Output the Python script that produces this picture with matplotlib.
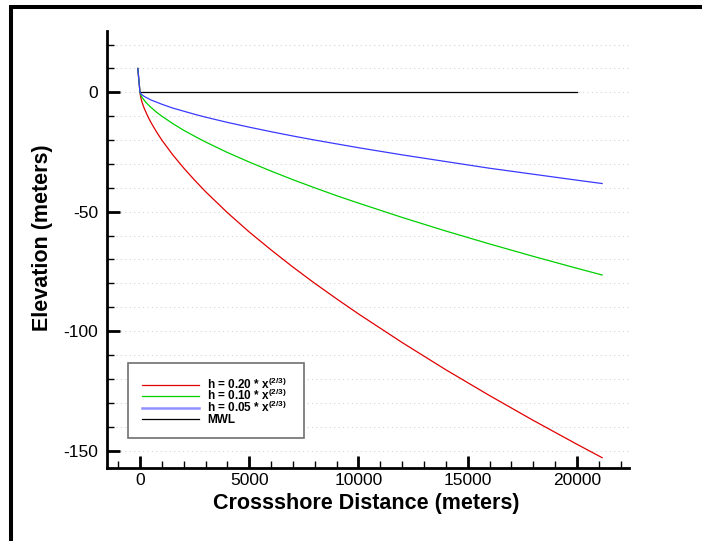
import matplotlib
matplotlib.use("Agg")
import matplotlib.pyplot as plt
from matplotlib.lines import Line2D
from matplotlib.patches import Rectangle
from matplotlib.ticker import MultipleLocator

plt.rcParams["font.family"] = ["Liberation Sans", "DejaVu Sans"]
plt.rcParams["axes.unicode_minus"] = False
plt.rcParams["mathtext.fontset"] = "custom"
plt.rcParams["mathtext.rm"] = "Liberation Sans:bold"
plt.rcParams["mathtext.default"] = "rm"

# profile points (crossshore distance, m)
dist = [-100, 0, 25, 50, 100, 175, 250, 375, 500, 750, 1000, 1500, 2000,
        2500, 3000, 4000, 5000, 6000, 7000, 8000, 9000, 10000, 12000,
        14000, 16000, 18000, 20000, 21150]
h_020 = [10, 0, -1.7, -2.7, -4.3, -6.3, -7.9, -10.4, -12.6, -16.5, -20.0,
         -26.2, -31.7, -36.8, -41.6, -50.4, -58.5, -66.0, -73.2, -80.0,
         -86.5, -92.8, -104.8, -116.2, -127.0, -137.4, -147.4, -153.0]
h_010 = [10, 0, -0.9, -1.4, -2.2, -3.1, -4.0, -5.2, -6.3, -8.3, -10.0,
         -13.1, -15.9, -18.4, -20.8, -25.2, -29.2, -33.0, -36.6, -40.0,
         -43.3, -46.4, -52.4, -58.1, -63.5, -68.7, -73.7, -76.5]
h_005 = [10, 0, -0.4, -0.7, -1.1, -1.6, -2.0, -2.6, -3.2, -4.1, -5.0,
         -6.6, -7.9, -9.2, -10.4, -12.6, -14.6, -16.5, -18.3, -20.0,
         -21.6, -23.2, -26.2, -29.0, -31.8, -34.3, -36.8, -38.2]
mwl_x = [0, 20000]
mwl_y = [0, 0]

labels = [r"h = 0.20 * x$^{(2/3)}$", r"h = 0.10 * x$^{(2/3)}$",
          r"h = 0.05 * x$^{(2/3)}$", "MWL"]
colors = ["#e00000", "#00d000", "#3a3aff", "black"]

W, H = 702, 541
fig = plt.figure(figsize=(W / 100, H / 100), dpi=100)
ax = fig.add_axes([107 / W, 1 - 467.7 / H, (629 - 107) / W, (467.7 - 30.7) / H])

ax.plot(mwl_x, mwl_y, color=colors[3], lw=0.9)
ax.plot(dist, h_020, color=colors[0], lw=0.9)
ax.plot(dist, h_010, color=colors[1], lw=0.9)
ax.plot(dist, h_005, color=colors[2], lw=0.9)

ax.set_xlim(-1510, 22380)
ax.set_ylim(-157.2, 25.8)

ax.xaxis.set_major_locator(MultipleLocator(5000))
ax.xaxis.set_minor_locator(MultipleLocator(1000))
ax.yaxis.set_major_locator(MultipleLocator(50))
ax.yaxis.set_minor_locator(MultipleLocator(10))

for s in ["top", "right"]:
    ax.spines[s].set_visible(False)
for s in ["left", "bottom"]:
    ax.spines[s].set_linewidth(2.0)

ax.tick_params(which="major", direction="in", length=9, width=2.0,
               labelsize=12.5)
ax.tick_params(axis="y", pad=6.5)
ax.tick_params(axis="x", pad=4)
ax.tick_params(which="minor", direction="in", length=5, width=1.0)
ax.yaxis.grid(True, which="both", color="#d4d4d4", lw=0.8, ls=(0, (1, 3)))
ax.set_axisbelow(True)

fig.text(366.5 / W, 1 - 503 / H, "Crossshore Distance (meters)",
         ha="center", va="center", fontsize=15.5, fontweight="bold")
fig.text(43 / W, 1 - 238 / H, "Elevation (meters)", rotation=90,
         ha="center", va="center", fontsize=15.5, fontweight="bold")

# legend drawn by hand so the rows stay evenly spaced (pixel layout)
def px(x, y):
    return x / W, 1 - y / H

fig.add_artist(Rectangle(px(127.7, 437.7), (304 - 127.7) / W, (437.7 - 363) / H,
                         transform=fig.transFigure, facecolor="white",
                         edgecolor="#707070", lw=1.2, zorder=5))
handle_colors = [colors[0], colors[1], "#9090ff", colors[3]]
handle_widths = [0.9, 0.9, 1.8, 0.9]
for i, lab in enumerate(labels):
    yc = 385 + 11.4 * i
    x0, y0 = px(142, yc)
    x1, _ = px(199, yc)
    fig.add_artist(Line2D([x0, x1], [y0, y0], color=handle_colors[i],
                          lw=handle_widths[i], transform=fig.transFigure,
                          zorder=6))
    tx, ty = px(207, yc + 4.0)
    fig.text(tx, ty, lab, ha="left", va="baseline", fontsize=8.5,
             fontweight="bold", zorder=6)

# page frame (top and left edges only)
fig.add_artist(Line2D([9 / W, 1], [1 - 7 / H, 1 - 7 / H], color="black",
                      lw=2.9, transform=fig.transFigure, solid_capstyle="butt"))
fig.add_artist(Line2D([11 / W, 11 / W], [1 - 5 / H, 0], color="black",
                      lw=2.9, transform=fig.transFigure, solid_capstyle="butt"))

fig.savefig("out.png", dpi=100)
